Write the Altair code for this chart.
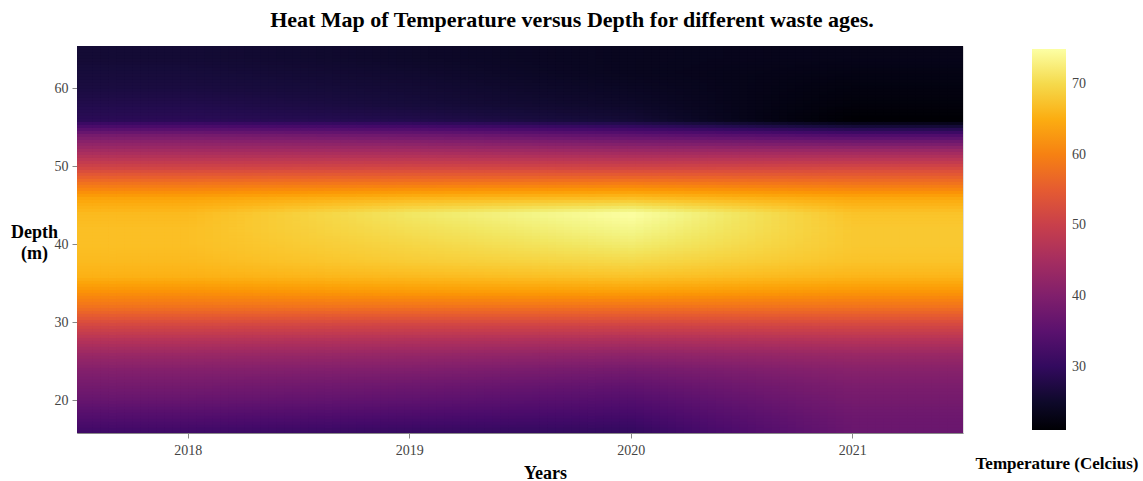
import altair as alt

# ---------------- data ----------------
years = [2018, 2019, 2020, 2021]
depths = [16, 18, 20, 22, 24, 26, 28, 30, 32, 34, 36, 38, 40,
          42, 44, 46, 48, 50, 52, 54, 56, 58, 60, 62, 64, 66]

t2018 = [31.5, 34, 36.5, 38.5, 40.5, 43.5, 47.5, 52.5, 58, 62, 65.5, 66.5, 67,
         67, 66.5, 64, 58, 51, 45, 39, 29, 28, 27, 26.5, 26, 26]
t2019 = [30.5, 33, 35.5, 37.5, 40, 43, 47, 52, 58, 63, 66.5, 68.5, 69.5,
         70.5, 71.5, 66, 58.5, 51.5, 45, 38, 28, 26.5, 26, 25.5, 25, 25]
t2020 = [30, 32, 34, 36, 38.5, 42, 46.5, 52, 58, 63.5, 67.5, 70, 72,
         73.5, 74.9, 67, 59, 51, 44, 36, 26, 25, 24.5, 24, 24, 24]
t2021 = [37, 37.5, 38.5, 39.5, 41, 43.5, 47.5, 52.5, 58, 62.5, 66, 67.5, 68,
         68, 67.5, 64.5, 58, 51.5, 44, 34, 21.1, 22, 22.5, 23, 23.5, 23.5]
temps = [t2018, t2019, t2020, t2021]

x_ticks = [2018, 2019, 2020, 2021]
y_ticks = [20, 30, 40, 50, 60]
legend_ticks = [30, 40, 50, 60, 70]

title_text = "Heat Map of Temperature versus Depth for different waste ages."
x_title = "Years"
y_title = ["Depth", "(m)"]
legend_title = "Temperature (Celcius)"

x_domain = [2017.5, 2021.5]
y_domain = [15.8, 65.4]

# lookup table of the grid
grid = [{"k": i * 100 + j, "t": temps[i][j]}
        for i in range(len(years)) for j in range(len(depths))]
tmin = min(min(c) for c in temps)
tmax = max(max(c) for c in temps)

FONT = "Liberation Serif"
NX, NY = 111, 129
ystep = years[1] - years[0]
dstep = depths[1] - depths[0]
cw = (x_domain[1] - x_domain[0]) / NX
ch = (y_domain[1] - y_domain[0]) / NY

# smooth (bilinear) rendering of the grid, like a smoothed heatmap
base = alt.Chart(alt.sequence(0, NX, as_="fx")).transform_calculate(
    fy=f"sequence(0, {NY})"
).transform_flatten(["fy"]).transform_calculate(
    u=f"{x_domain[0]} + (datum.fx + 0.5) * {cw}",
    v=f"{y_domain[0]} + (datum.fy + 0.5) * {ch}",
    ci=f"clamp((datum.u - {years[0]}) / {ystep}, 0, {len(years) - 1})",
    i0=f"min(floor(datum.ci), {len(years) - 2})",
    tx="datum.ci - datum.i0",
    cj=f"clamp((datum.v - {depths[0]}) / {dstep}, 0, {len(depths) - 1})",
    j0=f"min(floor(datum.cj), {len(depths) - 2})",
    ty="datum.cj - datum.j0",
    k00="datum.i0 * 100 + datum.j0",
    k10="(datum.i0 + 1) * 100 + datum.j0",
    k01="datum.i0 * 100 + datum.j0 + 1",
    k11="(datum.i0 + 1) * 100 + datum.j0 + 1",
)
for nm in ["00", "10", "01", "11"]:
    base = base.transform_lookup(
        lookup="k" + nm,
        from_=alt.LookupData(data=alt.InlineData(values=grid), key="k", fields=["t"]),
        as_=["t" + nm],
    )
base = base.transform_calculate(
    temp="(1-datum.tx)*(1-datum.ty)*datum.t00 + datum.tx*(1-datum.ty)*datum.t10"
         " + (1-datum.tx)*datum.ty*datum.t01 + datum.tx*datum.ty*datum.t11",
    xa=f"datum.u - {cw / 2}",
    xb=f"datum.u + {cw * 0.8}",
    ya=f"datum.v - {ch * 0.8}",
    yb=f"datum.v + {ch / 2}",
)

heat = base.mark_rect(clip=True).encode(
    x=alt.X("xa:Q",
            scale=alt.Scale(domain=x_domain, nice=False, zero=False),
            axis=alt.Axis(values=x_ticks, format="d", title=x_title,
                          labelFont=FONT, labelFontSize=14, labelColor="#444",
                          labelPadding=5, labelFlush=False,
                          titleFont=FONT, titleFontSize=18, titleFontWeight="bold",
                          titleColor="black", titleX=468, titleY=45,
                          titleBaseline="alphabetic", titleAlign="center")),
    x2="xb:Q",
    y=alt.Y("ya:Q",
            scale=alt.Scale(domain=y_domain, nice=False, zero=False),
            axis=alt.Axis(values=y_ticks, title=y_title,
                          labelFont=FONT, labelFontSize=14, labelColor="#444",
                          labelPadding=4, labelFlush=False,
                          titleFont=FONT, titleFontSize=18, titleFontWeight="bold",
                          titleColor="black", titleAngle=0, titleAlign="center",
                          titleBaseline="alphabetic", titleX=-43, titleY=191,
                          titleLineHeight=21)),
    y2="yb:Q",
    color=alt.Color("temp:Q",
                    scale=alt.Scale(scheme="inferno", domain=[tmin, tmax]),
                    legend=alt.Legend(orient="none", legendX=955, legendY=3,
                                      direction="vertical",
                                      gradientLength=381, gradientThickness=34,
                                      gradientStrokeWidth=0,
                                      values=legend_ticks,
                                      labelFont=FONT, labelFontSize=14,
                                      labelColor="#444", labelOffset=6,
                                      title=None)),
)

legend_label = alt.Chart(alt.InlineData(values=[{"t": legend_title}])).mark_text(
    font=FONT, fontSize=17, fontWeight="bold", color="black",
    align="center", baseline="alphabetic",
).encode(
    x=alt.value(980),
    y=alt.value(423),
    text="t:N",
)

chart = alt.layer(heat, legend_label).properties(
    width=886,
    height=387,
    autosize=alt.AutoSizeParams(type="none"),
    padding={"left": 77, "top": 46, "right": 180, "bottom": 48},
    title=alt.TitleParams(text=title_text, font=FONT, fontSize=22,
                          fontWeight="bold", color="black", anchor="middle",
                          frame="group", dx=52, dy=22, offset=19,
                          baseline="alphabetic"),
).configure_axis(
    domain=False, ticks=False, grid=False,
).configure_view(
    stroke=None,
).configure(background="white")

chart.save("out.html", embed_options={"renderer": "svg", "actions": False})
